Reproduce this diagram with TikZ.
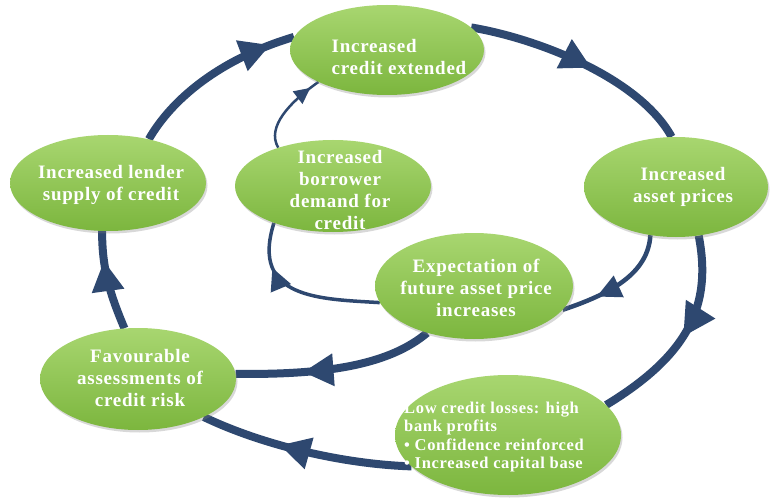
\documentclass[tikz,border=0pt]{standalone}
\usepackage{fontspec}
\setmainfont{Liberation Serif}
\usetikzlibrary{shapes.geometric,arrows.meta,decorations.markings,shadows,backgrounds}
\definecolor{navy}{RGB}{46,72,112}
\definecolor{gtop}{RGB}{168,214,112}
\definecolor{gbot}{RGB}{124,182,62}
\tikzset{
  bub/.style={ellipse, draw=none, top color=gtop, bottom color=gbot,
    drop shadow={shadow xshift=1.5pt,shadow yshift=-2.5pt,opacity=0.3}, inner sep=0pt},
  txt/.style={text=white, font=\bfseries\fontsize{19}{22}\selectfont\addfontfeature{LetterSpace=4},
    align=center, inner sep=0pt},
  txtsmall/.style={text=white, font=\bfseries\fontsize{16.5}{18.5}\selectfont\addfontfeature{LetterSpace=4},
    align=left, inner sep=0pt},
  marr/.style n args={3}{postaction={decorate, decoration={markings,
    mark=at position #1 with {\arrow{Triangle[length=#2,width=#3,line width=0pt]}}}}},
  outer/.style={draw=navy, line width=8pt},
  innerA/.style={draw=navy, line width=4.5pt},
  innerB/.style={draw=navy, line width=3.5pt},
  innerC/.style={draw=navy, line width=2.5pt},
}
\begin{document}
\begin{tikzpicture}[x=1pt,y=1pt]
\useasboundingbox (0,0) rectangle (771,499);
% ellipses
\node[bub, minimum width=194pt, minimum height=90pt]  (cred)  at (387,449) {};
\node[bub, minimum width=196pt, minimum height=96pt]  (lend)  at (108,316) {};
\node[bub, minimum width=184pt, minimum height=100pt] (asset) at (676,312) {};
\node[bub, minimum width=196pt, minimum height=92pt]  (borr)  at (333,313) {};
\node[bub, minimum width=198pt, minimum height=106pt] (expe)  at (474,213) {};
\node[bub, minimum width=196pt, minimum height=102pt] (fav)   at (138,120) {};
\node[bub, minimum width=226pt, minimum height=120pt] (low)   at (508,64) {};
% texts
\node[txt, align=left] (credT) at (399,442) {Increased\\credit extended};
\node[txt] (lendT)  at (111,314) {Increased lender\\supply of credit};
\node[txt] (assetT) at (683,312) {Increased\\asset prices};
\node[txt] (borrT)  at (340,309) {Increased\\borrower\\demand for\\credit};
\node[txt] (expeT)  at (476,211) {Expectation of\\future asset price\\increases};
\node[txt] (favT)   at (140,121) {Favourable\\assessments of\\credit risk};
\node[txtsmall, anchor=west] (lowT) at (404,62) {Low credit losses: high\\bank profits\\• Confidence reinforced\\• Increased capital base};
% connectors
\begin{pgfonlayer}{background}
\fill[white] (0,0) rectangle (771,499);
\draw[outer, marr={0.86}{30pt}{33pt}] (lend.47) .. controls (172,400) and (220,440) .. (cred.172);
\draw[outer, marr={0.54}{30pt}{33pt}] (cred.15) .. controls (540,460) and (640,420) .. (asset.95);
\draw[outer, marr={0.50}{32pt}{35pt}] (asset.-65) .. controls (712,195) and (690,145) .. (low.17);
\draw[outer, marr={0.62}{30pt}{33pt}] (low.198) .. controls (340,35) and (260,55) .. (fav.-30);
\draw[outer, marr={0.70}{30pt}{33pt}] (fav.105) .. controls (110,205) and (102,230) .. (lend.263);
\draw[outer, marr={0.66}{30pt}{33pt}] (expe.225) .. controls (390,135) and (330,124) .. (fav.3);
\draw[innerA, marr={0.70}{24pt}{24pt}] (asset.-118) .. controls (648,225) and (610,205) .. (expe.-15);
\draw[innerB, marr={0.72}{22pt}{22pt}] (expe.190) .. controls (320,200) and (250,200) .. (borr.212);
\draw[innerC, marr={0.88}{16pt}{16pt}] (borr.145) .. controls (266,372) and (290,397) .. (cred.205);
\end{pgfonlayer}
\end{tikzpicture}
\end{document}
